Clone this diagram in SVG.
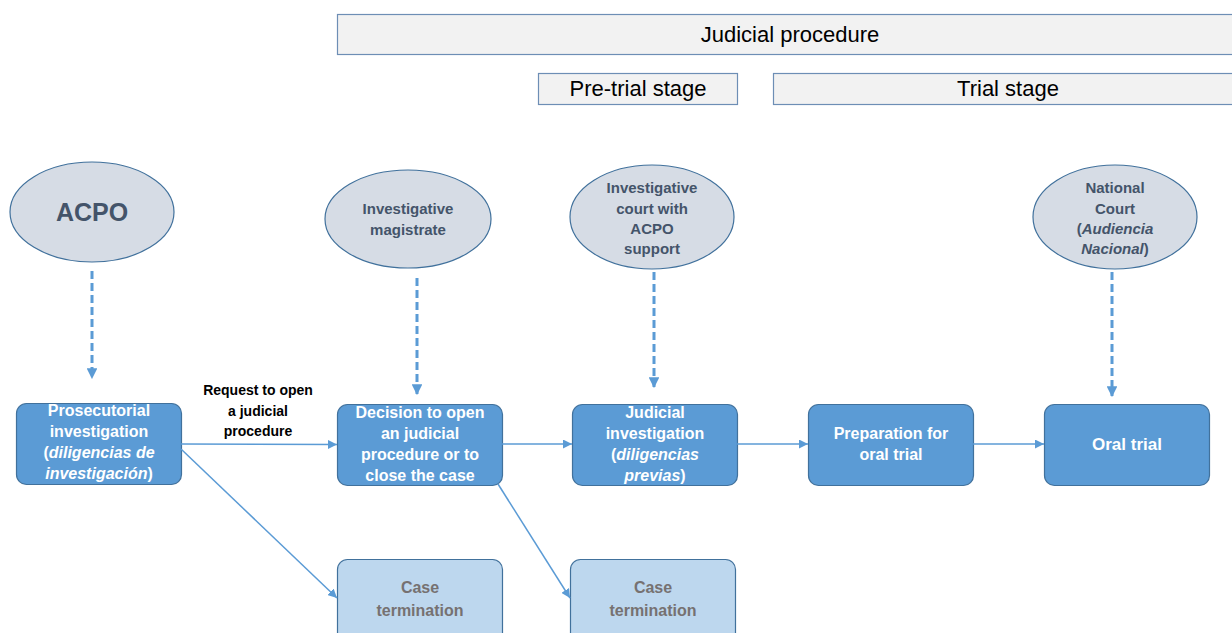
<svg xmlns="http://www.w3.org/2000/svg" width="1232" height="633" viewBox="0 0 1232 633">
<style>
.hdr{fill:#f2f2f2;stroke:#6d8eb5;stroke-width:1.2}
.hdrt{font-family:"Liberation Sans Narrow","Liberation Sans",sans-serif;font-size:22px;fill:#000;text-anchor:middle}
.ell{fill:#d6dce5;stroke:#41719c;stroke-width:1.2}
.et{font-family:"Liberation Sans Narrow","Liberation Sans",sans-serif;font-size:15px;font-weight:bold;fill:#44546a;text-anchor:middle}
.box{fill:#5b9bd5;stroke:#41719c;stroke-width:1.2}
.bt{font-family:"Liberation Sans Narrow","Liberation Sans",sans-serif;font-size:16px;font-weight:bold;fill:#fff;text-anchor:middle}
.term{fill:#bdd7ee;stroke:#41719c;stroke-width:1.2}
.tt{font-family:"Liberation Sans Narrow","Liberation Sans",sans-serif;font-size:16px;font-weight:bold;fill:#767171;text-anchor:middle}
.lbl{font-family:"Liberation Sans Narrow","Liberation Sans",sans-serif;font-size:14px;font-weight:bold;fill:#000;text-anchor:middle}
.dash{stroke:#5b9bd5;stroke-width:3;stroke-dasharray:8 4;fill:none}
.solid{stroke:#5b9bd5;stroke-width:1.5;fill:none}
</style>
<defs>
<marker id="ad" viewBox="0 0 10 10" refX="9" refY="5" markerWidth="3.6" markerHeight="3.6" orient="auto" markerUnits="strokeWidth"><path d="M0,0L10,5L0,10z" fill="#5b9bd5"/></marker>
<marker id="as" viewBox="0 0 10 10" refX="10" refY="5" markerWidth="6" markerHeight="6" orient="auto" markerUnits="strokeWidth"><path d="M0,0L10,5L0,10z" fill="#5b9bd5"/></marker>
</defs>

<g id="header-judicial">
<rect class="hdr" x="337.5" y="14.5" width="900" height="40"/>
<text class="hdrt" x="790" y="42">Judicial procedure</text>
</g>
<g id="header-pretrial">
<rect class="hdr" x="538.5" y="73.5" width="199" height="31"/>
<text class="hdrt" x="638" y="96">Pre-trial stage</text>
</g>
<g id="header-trial">
<rect class="hdr" x="773.5" y="73.5" width="470" height="31"/>
<text class="hdrt" x="1008" y="96">Trial stage</text>
</g>

<g id="acpo">
<ellipse class="ell" cx="92" cy="212" rx="82" ry="50"/>
<text class="et" x="92" y="221" style="font-size:25px">ACPO</text>
</g>
<g id="magistrate">
<ellipse class="ell" cx="408" cy="219" rx="83" ry="49"/>
<text class="et" x="408" y="214">Investigative</text>
<text class="et" x="408" y="235">magistrate</text>
</g>
<g id="court-acpo">
<ellipse class="ell" cx="652" cy="217" rx="82" ry="52"/>
<text class="et" x="652" y="193">Investigative</text>
<text class="et" x="652" y="214">court with</text>
<text class="et" x="652" y="234">ACPO</text>
<text class="et" x="652" y="254">support</text>
</g>
<g id="national-court">
<ellipse class="ell" cx="1115" cy="217" rx="82" ry="52"/>
<text class="et" x="1115" y="193">National</text>
<text class="et" x="1115" y="214">Court</text>
<text class="et" x="1115" y="234">(<tspan font-style="italic">Audiencia</tspan></text>
<text class="et" x="1115" y="254"><tspan font-style="italic">Nacional</tspan>)</text>
</g>

<g id="prosecutorial">
<rect class="box" x="16.5" y="403.5" width="165" height="81" rx="10"/>
<text class="bt" x="99" y="416">Prosecutorial</text>
<text class="bt" x="99" y="437">investigation</text>
<text class="bt" x="99" y="458">(<tspan font-style="italic">diligencias de</tspan></text>
<text class="bt" x="99" y="479"><tspan font-style="italic">investigación</tspan>)</text>
</g>
<g id="decision">
<rect class="box" x="337.5" y="404.5" width="165" height="81" rx="10"/>
<text class="bt" x="420" y="418">Decision to open</text>
<text class="bt" x="420" y="439">an judicial</text>
<text class="bt" x="420" y="460">procedure or to</text>
<text class="bt" x="420" y="481">close the case</text>
</g>
<g id="judicial-investigation">
<rect class="box" x="572.5" y="404.5" width="165" height="81" rx="10"/>
<text class="bt" x="655" y="418">Judicial</text>
<text class="bt" x="655" y="439">investigation</text>
<text class="bt" x="655" y="460">(<tspan font-style="italic">diligencias</tspan></text>
<text class="bt" x="655" y="481"><tspan font-style="italic">previas</tspan>)</text>
</g>
<g id="preparation">
<rect class="box" x="808.5" y="404.5" width="165" height="81" rx="10"/>
<text class="bt" x="891" y="439">Preparation for</text>
<text class="bt" x="891" y="460">oral trial</text>
</g>
<g id="oral-trial">
<rect class="box" x="1044.5" y="404.5" width="165" height="81" rx="10"/>
<text class="bt" x="1127" y="450" style="font-size:17px">Oral trial</text>
</g>
<g id="termination-1">
<rect class="term" x="337.5" y="559.5" width="165" height="90" rx="10"/>
<text class="tt" x="420" y="593">Case</text>
<text class="tt" x="420" y="616">termination</text>
</g>
<g id="termination-2">
<rect class="term" x="570.5" y="559.5" width="165" height="90" rx="10"/>
<text class="tt" x="653" y="593">Case</text>
<text class="tt" x="653" y="616">termination</text>
</g>

<g id="connectors">
<line class="dash" x1="92" y1="271" x2="92" y2="378" marker-end="url(#ad)"/>
<line class="dash" x1="417" y1="278" x2="417" y2="394" marker-end="url(#ad)"/>
<line class="dash" x1="654" y1="272" x2="654" y2="387" marker-end="url(#ad)"/>
<line class="dash" x1="1112" y1="272" x2="1112" y2="396" marker-end="url(#ad)"/>
<line class="solid" x1="181" y1="444" x2="337" y2="444.5" marker-end="url(#as)"/>
<line class="solid" x1="502" y1="444" x2="572" y2="444" marker-end="url(#as)"/>
<line class="solid" x1="737" y1="444" x2="808" y2="444" marker-end="url(#as)"/>
<line class="solid" x1="973" y1="444" x2="1044" y2="444" marker-end="url(#as)"/>
<line class="solid" x1="181" y1="449" x2="337" y2="598" marker-end="url(#as)"/>
<line class="solid" x1="498" y1="484" x2="570" y2="598" marker-end="url(#as)"/>
<text class="lbl" x="258" y="395">Request to open</text>
<text class="lbl" x="258" y="416">a judicial</text>
<text class="lbl" x="258" y="436">procedure</text>
</g>
</svg>
